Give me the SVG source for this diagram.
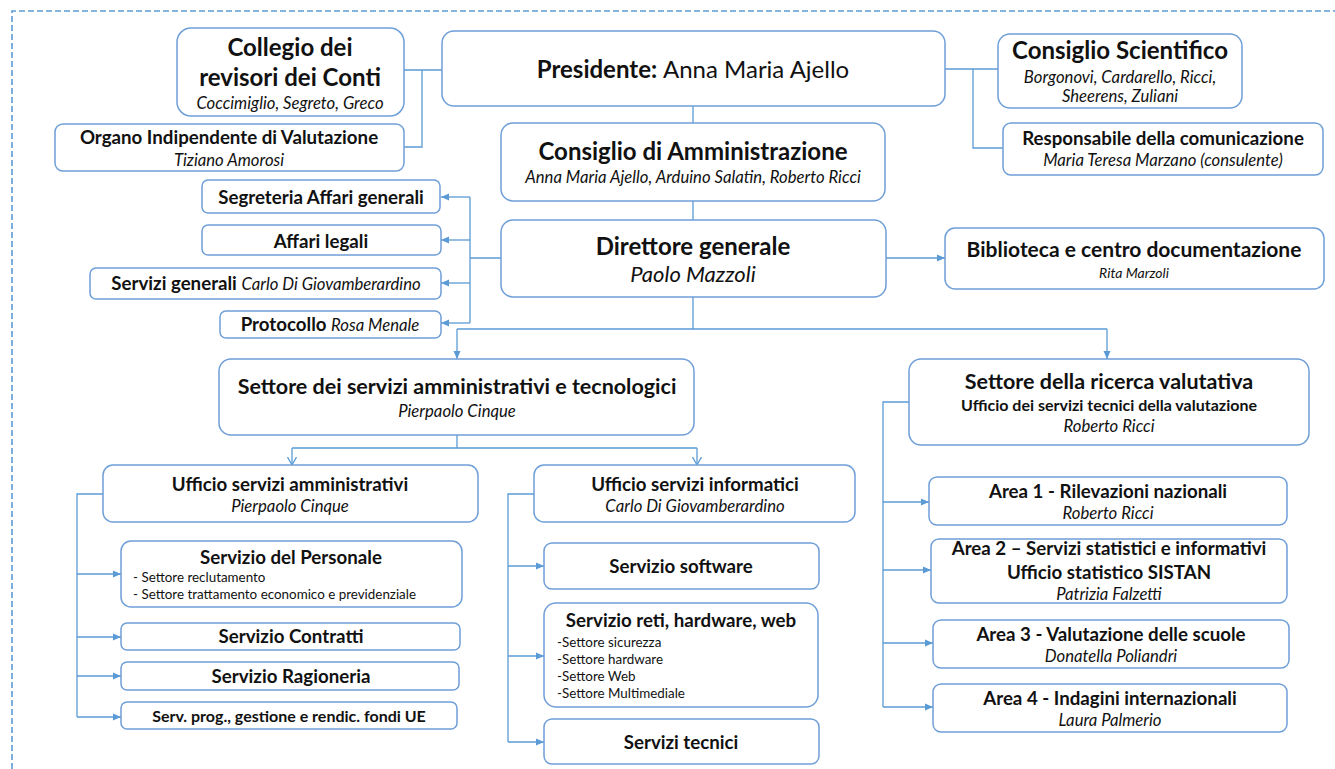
<svg xmlns="http://www.w3.org/2000/svg" width="1335" height="769" viewBox="0 0 1335 769">
<style>
text{font-family:Lato,"Liberation Sans",sans-serif;fill:#111;text-anchor:middle}
.b{fill:#fff;stroke:#6f9fd8;stroke-width:1.5}
.c{fill:none;stroke:#5b9bd5;stroke-width:1.3}
.h1{font-weight:bold;font-size:24px}
.h2{font-weight:bold;font-size:18.7px}
.h3{font-weight:bold;font-size:16px}
.it{font-style:italic;font-size:16.7px}
.sm{font-size:13.4px;text-anchor:start}
.n{font-weight:normal}
.ni{font-weight:normal;font-style:italic;font-size:16.7px}
</style>
<defs>
<marker id="a" markerUnits="userSpaceOnUse" markerWidth="9" markerHeight="8" refX="8" refY="4" orient="auto"><path d="M0,0.5 L8,4 L0,7.5z" fill="#5b9bd5"/></marker>
<marker id="o" markerUnits="userSpaceOnUse" markerWidth="10" markerHeight="10" refX="8" refY="5" orient="auto"><path d="M0,0.5 L8,5 L0,9.5" fill="none" stroke="#5b9bd5" stroke-width="1.3"/></marker>
</defs>
<path d="M12,769 V11 H1335" fill="none" stroke="#5b9bd5" stroke-width="1.6" stroke-dasharray="6,3"/>
<g id="connectors">
<path class="c" d="M404,70 H442 M404,147 H422 V70"/>
<path class="c" d="M945,69 H998 M973,69 V148 H1003"/>
<path class="c" d="M693,106 V123 M693,201 V220"/>
<path class="c" d="M501,258 H470 M470,197 V323"/>
<path class="c" marker-end="url(#a)" d="M470,197 H441"/>
<path class="c" marker-end="url(#a)" d="M470,240 H441"/>
<path class="c" marker-end="url(#a)" d="M470,283 H441"/>
<path class="c" marker-end="url(#a)" d="M470,323 H441"/>
<path class="c" marker-end="url(#a)" d="M886,258 H945"/>
<path class="c" d="M693,297 V329 M457,329 H1107"/>
<path class="c" marker-end="url(#a)" d="M457,329 V359"/>
<path class="c" marker-end="url(#a)" d="M1107,329 V359"/>
<path class="c" d="M457,435 V448 M292,448 H697"/>
<path class="c" marker-end="url(#o)" d="M292,448 V465"/>
<path class="c" marker-end="url(#o)" d="M697,448 V465"/>
<path class="c" d="M103,494 H77 V717"/>
<path class="c" marker-end="url(#a)" d="M77,574 H121"/>
<path class="c" marker-end="url(#a)" d="M77,637 H121"/>
<path class="c" marker-end="url(#a)" d="M77,676 H121"/>
<path class="c" marker-end="url(#a)" d="M77,717 H121"/>
<path class="c" d="M534,494 H508 V742"/>
<path class="c" marker-end="url(#a)" d="M508,566 H544"/>
<path class="c" marker-end="url(#a)" d="M508,656 H544"/>
<path class="c" marker-end="url(#a)" d="M508,742 H544"/>
<path class="c" d="M909,402 H883 V707"/>
<path class="c" marker-end="url(#a)" d="M883,502 H929"/>
<path class="c" marker-end="url(#a)" d="M883,570 H931"/>
<path class="c" marker-end="url(#a)" d="M883,643 H933"/>
<path class="c" marker-end="url(#a)" d="M883,707 H933"/>
</g>
<g id="collegio"><rect class="b" x="177" y="28" width="227" height="88" rx="14"/>
<text class="h1" x="290" y="56">Collegio dei</text><text class="h1" x="290" y="86">revisori dei Conti</text>
<text class="it" x="290" y="109">Coccimiglio, Segreto, Greco</text></g>
<g id="organo"><rect class="b" x="55" y="124" width="349" height="47" rx="8"/>
<text class="h2" x="229" y="144">Organo Indipendente di Valutazione</text>
<text class="it" x="229" y="166">Tiziano Amorosi</text></g>
<g id="presidente"><rect class="b" x="442" y="31" width="503" height="75" rx="12"/>
<text class="h1" x="693" y="78">Presidente: <tspan class="n">Anna Maria Ajello</tspan></text></g>
<g id="cda"><rect class="b" x="501" y="123" width="384" height="78" rx="12"/>
<text class="h1" x="693" y="160">Consiglio di Amministrazione</text>
<text class="it" x="693" y="183">Anna Maria Ajello, Arduino Salatin, Roberto Ricci</text></g>
<g id="scientifico"><rect class="b" x="998" y="34" width="244" height="74" rx="12"/>
<text class="h1" x="1120" y="59">Consiglio Scientifico</text>
<text class="it" x="1120" y="83">Borgonovi, Cardarello, Ricci,</text>
<text class="it" x="1120" y="102">Sheerens, Zuliani</text></g>
<g id="comunicazione"><rect class="b" x="1003" y="123" width="320" height="52" rx="8"/>
<text class="h2" x="1163" y="145">Responsabile della comunicazione</text>
<text class="it" x="1163" y="166">Maria Teresa Marzano (consulente)</text></g>
<g id="segreteria"><rect class="b" x="202" y="180" width="238" height="33" rx="6"/>
<text class="h2" x="321" y="204">Segreteria Affari generali</text></g>
<g id="legali"><rect class="b" x="202" y="225" width="239" height="30" rx="6"/>
<text class="h2" x="321" y="248">Affari legali</text></g>
<g id="servgen"><rect class="b" x="90" y="268" width="351" height="31" rx="6"/>
<text class="h2" x="266" y="290">Servizi generali <tspan class="ni">Carlo Di Giovamberardino</tspan></text></g>
<g id="protocollo"><rect class="b" x="220" y="311" width="221" height="27" rx="6"/>
<text class="h2" x="330" y="331">Protocollo <tspan class="ni">Rosa Menale</tspan></text></g>
<g id="direttore"><rect class="b" x="501" y="220" width="385" height="77" rx="12"/>
<text class="h1" x="693" y="255">Direttore generale</text>
<text style="font-style:italic;font-size:22px" x="693" y="282">Paolo Mazzoli</text></g>
<g id="biblioteca"><rect class="b" x="945" y="228" width="379" height="61" rx="10"/>
<text class="h1" style="font-size:21px" x="1134" y="257">Biblioteca e centro documentazione</text>
<text style="font-style:italic;font-size:14px" x="1134" y="278">Rita Marzoli</text></g>
<g id="settore-amm"><rect class="b" x="219" y="359" width="475" height="76" rx="12"/>
<text class="h1" style="font-size:21.5px" x="457" y="394">Settore dei servizi amministrativi e tecnologici</text>
<text class="it" x="457" y="417">Pierpaolo Cinque</text></g>
<g id="settore-ric"><rect class="b" x="909" y="359" width="400" height="86" rx="12"/>
<text class="h1" style="font-size:21.5px" x="1109" y="389">Settore della ricerca valutativa</text>
<text class="h3" x="1109" y="411">Ufficio dei servizi tecnici della valutazione</text>
<text class="it" x="1109" y="432">Roberto Ricci</text></g>
<g id="uff-amm"><rect class="b" x="103" y="465" width="375" height="57" rx="10"/>
<text class="h2" x="290" y="491">Ufficio servizi amministrativi</text>
<text class="it" x="290" y="512">Pierpaolo Cinque</text></g>
<g id="uff-inf"><rect class="b" x="534" y="465" width="321" height="57" rx="10"/>
<text class="h2" x="695" y="491">Ufficio servizi informatici</text>
<text class="it" x="695" y="512">Carlo Di Giovamberardino</text></g>
<g id="personale"><rect class="b" x="121" y="541" width="341" height="66" rx="10"/>
<text class="h2" x="291" y="564">Servizio del Personale</text>
<text class="sm" x="133" y="582">- Settore reclutamento</text>
<text class="sm" x="133" y="599">- Settore trattamento economico e previdenziale</text></g>
<g id="contratti"><rect class="b" x="121" y="623" width="339" height="27" rx="6"/>
<text class="h2" x="291" y="643">Servizio Contratti</text></g>
<g id="ragioneria"><rect class="b" x="121" y="662" width="338" height="28" rx="6"/>
<text class="h2" x="291" y="683">Servizio Ragioneria</text></g>
<g id="fondi"><rect class="b" x="121" y="702" width="336" height="27" rx="6"/>
<text class="h3" x="289" y="722">Serv. prog., gestione e rendic. fondi UE</text></g>
<g id="software"><rect class="b" x="544" y="543" width="275" height="46" rx="8"/>
<text class="h2" x="681" y="573">Servizio software</text></g>
<g id="reti"><rect class="b" x="544" y="603" width="274" height="104" rx="12"/>
<text class="h2" x="681" y="627">Servizio reti, hardware, web</text>
<text class="sm" x="557" y="647">-Settore sicurezza</text>
<text class="sm" x="557" y="664">-Settore hardware</text>
<text class="sm" x="557" y="681">-Settore Web</text>
<text class="sm" x="557" y="698">-Settore Multimediale</text></g>
<g id="tecnici"><rect class="b" x="544" y="719" width="275" height="45" rx="8"/>
<text class="h2" x="681" y="749">Servizi tecnici</text></g>
<g id="area1"><rect class="b" x="929" y="477" width="358" height="48" rx="8"/>
<text class="h2" x="1108" y="498">Area 1 - Rilevazioni nazionali</text>
<text class="it" x="1108" y="519">Roberto Ricci</text></g>
<g id="area2"><rect class="b" x="931" y="539" width="356" height="64" rx="8"/>
<text class="h2" x="1109" y="555">Area 2 – Servizi statistici e informativi</text>
<text class="h2" x="1109" y="579">Ufficio statistico SISTAN</text>
<text class="it" x="1109" y="600">Patrizia Falzetti</text></g>
<g id="area3"><rect class="b" x="933" y="620" width="356" height="48" rx="8"/>
<text class="h2" x="1111" y="641">Area 3 - Valutazione delle scuole</text>
<text class="it" x="1111" y="662">Donatella Poliandri</text></g>
<g id="area4"><rect class="b" x="933" y="684" width="354" height="48" rx="8"/>
<text class="h2" x="1110" y="705">Area 4 - Indagini internazionali</text>
<text class="it" x="1110" y="726">Laura Palmerio</text></g>
</svg>
